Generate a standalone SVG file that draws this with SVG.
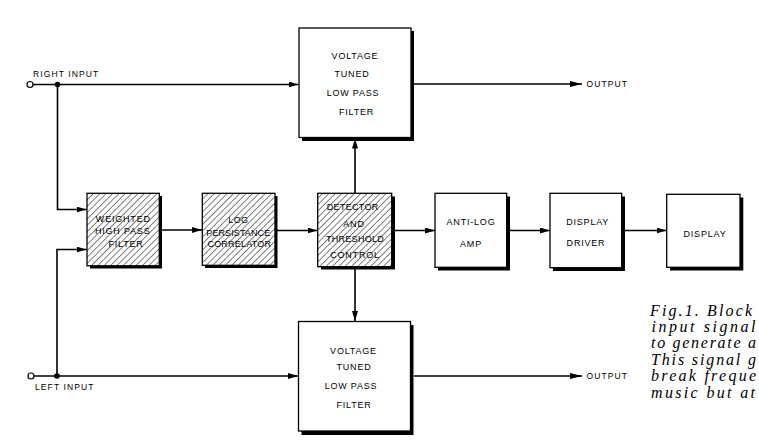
<svg xmlns="http://www.w3.org/2000/svg" width="759" height="445" viewBox="0 0 759 445">
<defs>
<style>
.box{fill:#fff;stroke:#000;stroke-width:1.3}
.hatch{fill:url(#hatch);stroke:#000;stroke-width:1.3}
.shadow{fill:#000}
.lbl{font-family:"Liberation Sans",Arial,sans-serif;font-size:9px;letter-spacing:0.8px;text-anchor:middle;fill:#000}
.io{font-family:"Liberation Sans",Arial,sans-serif;font-size:8.5px;letter-spacing:1.1px;fill:#000}
.wire{fill:none;stroke:#000;stroke-width:1.6}
.cap{font-family:"Liberation Serif","Times New Roman",serif;font-style:italic;font-size:16px;fill:#000}
</style>
<pattern id="hatch" patternUnits="userSpaceOnUse" width="4.5" height="4.5" patternTransform="rotate(45)">
<rect width="4.5" height="4.5" fill="#fff"/>
<line x1="0" y1="0" x2="0" y2="4.5" stroke="#000" stroke-width="1"/>
</pattern>
<marker id="arr" markerUnits="userSpaceOnUse" markerWidth="12" markerHeight="8" refX="10" refY="3" orient="auto">
<path d="M0,0 L10,3 L0,6 Z" fill="#000"/>
</marker>
<marker id="arrL" markerUnits="userSpaceOnUse" markerWidth="14" markerHeight="8" refX="12" refY="3" orient="auto">
<path d="M0,0 L12,3 L0,6 Z" fill="#000"/>
</marker>
</defs>
<rect width="759" height="445" fill="#fff"/>

<g id="connectors">
<circle cx="30" cy="84.5" r="3" fill="#fff" stroke="#000" stroke-width="1.2"/>
<line class="wire" x1="33" y1="84.5" x2="298.5" y2="84.5" marker-end="url(#arr)"/>
<circle cx="57.5" cy="84.5" r="2.8" fill="#000"/>
<polyline class="wire" points="57.5,84.5 57.5,209.5 86.5,209.5" marker-end="url(#arr)"/>
<circle cx="31" cy="376" r="3" fill="#fff" stroke="#000" stroke-width="1.2"/>
<line class="wire" x1="34" y1="376" x2="298" y2="376" marker-end="url(#arr)"/>
<circle cx="57" cy="376" r="2.8" fill="#000"/>
<polyline class="wire" points="57,376 57,249.5 86.5,249.5" marker-end="url(#arr)"/>
<line class="wire" x1="162" y1="230" x2="202" y2="230" marker-end="url(#arr)"/>
<line class="wire" x1="277" y1="230.5" x2="317.5" y2="230.5" marker-end="url(#arr)"/>
<line class="wire" x1="355" y1="193" x2="355" y2="138.5" marker-end="url(#arr)"/>
<line class="wire" x1="355" y1="269" x2="355" y2="321" marker-end="url(#arr)"/>
<line class="wire" x1="395" y1="230.5" x2="435" y2="230.5" marker-end="url(#arr)"/>
<line class="wire" x1="510" y1="230.5" x2="550" y2="230.5" marker-end="url(#arr)"/>
<line class="wire" x1="624" y1="230.5" x2="666.5" y2="230.5" stroke-width="2.4" marker-end="url(#arr)"/>
<line class="wire" x1="414" y1="84" x2="582" y2="84" marker-end="url(#arrL)"/>
<line class="wire" x1="414" y1="376" x2="582" y2="376" marker-end="url(#arrL)"/>
</g>

<g id="labels">
<text class="io" x="33" y="77">RIGHT INPUT</text>
<text class="io" x="35" y="390">LEFT INPUT</text>
<text class="io" x="586.5" y="87">OUTPUT</text>
<text class="io" x="586.5" y="379">OUTPUT</text>
</g>

<g id="lpf-top">
<rect class="shadow" x="302" y="31" width="112" height="110"/>
<rect class="box" x="299" y="28" width="112" height="109.5"/>
<text class="lbl" x="355" y="58.5">VOLTAGE</text>
<text class="lbl" x="352" y="76.5">TUNED</text>
<text class="lbl" x="353" y="96">LOW PASS</text>
<text class="lbl" x="356.5" y="114.5">FILTER</text>
</g>

<g id="lpf-bottom">
<rect class="shadow" x="301.5" y="325" width="112" height="110"/>
<rect class="box" x="298.5" y="321.5" width="112" height="109.5"/>
<text class="lbl" x="353.5" y="354.2">VOLTAGE</text>
<text class="lbl" x="354" y="370.2">TUNED</text>
<text class="lbl" x="351" y="388.8">LOW PASS</text>
<text class="lbl" x="354" y="407.5">FILTER</text>
</g>

<g id="weighted-hpf">
<rect class="shadow" x="90" y="196" width="72" height="72.5"/>
<rect class="hatch" x="87" y="193.3" width="72.3" height="72.5"/>
<text class="lbl" x="123.3" y="221.5">WEIGHTED</text>
<text class="lbl" x="122.7" y="234">HIGH PASS</text>
<text class="lbl" x="126" y="246.8">FILTER</text>
</g>

<g id="log-correlator">
<rect class="shadow" x="205" y="196" width="72.5" height="72"/>
<rect class="hatch" x="202.3" y="193.3" width="72.7" height="72"/>
<text class="lbl" x="238.3" y="222.8" style="letter-spacing:0.3px">LOG</text>
<text class="lbl" x="238.3" y="235.8" style="letter-spacing:0.1px">PERSISTANCE</text>
<text class="lbl" x="239.3" y="246.8" style="letter-spacing:0.2px">CORRELATOR</text>
</g>

<g id="detector">
<rect class="shadow" x="321" y="196.5" width="74" height="73"/>
<rect class="hatch" x="317.7" y="193.3" width="74" height="73.4"/>
<text class="lbl" x="352.7" y="210.2" style="letter-spacing:0.3px">DETECTOR</text>
<text class="lbl" x="354" y="226.8">AND</text>
<text class="lbl" x="355" y="241.8" style="letter-spacing:0.3px">THRESHOLD</text>
<text class="lbl" x="355" y="257.5">CONTROL</text>
</g>

<g id="anti-log">
<rect class="shadow" x="438" y="196.5" width="72" height="74"/>
<rect class="box" x="435" y="193.3" width="71.7" height="74"/>
<text class="lbl" x="471" y="225.2">ANTI-LOG</text>
<text class="lbl" x="471" y="246.8">AMP</text>
</g>

<g id="display-driver">
<rect class="shadow" x="553" y="196.5" width="72" height="74.5"/>
<rect class="box" x="550" y="193.3" width="71.7" height="74.4"/>
<text class="lbl" x="587.7" y="225.2">DISPLAY</text>
<text class="lbl" x="586" y="245.8">DRIVER</text>
</g>

<g id="display">
<rect class="shadow" x="670" y="197.5" width="73.3" height="73"/>
<rect class="box" x="666.7" y="194.3" width="73.3" height="73"/>
<text class="lbl" x="705" y="236.8">DISPLAY</text>
</g>

<g id="caption">
<text class="cap" x="650" y="315.7" textLength="102" lengthAdjust="spacing">Fig.1. Block</text>
<text class="cap" x="651.5" y="331.8" textLength="104" lengthAdjust="spacing">input signal</text>
<text class="cap" x="651" y="348.3" textLength="105" lengthAdjust="spacing">to generate a</text>
<text class="cap" x="651" y="365" textLength="105" lengthAdjust="spacing">This signal g</text>
<text class="cap" x="651" y="381.2" textLength="105" lengthAdjust="spacing">break freque</text>
<text class="cap" x="651" y="397.5" textLength="104" lengthAdjust="spacing">music but at</text>
</g>
</svg>
